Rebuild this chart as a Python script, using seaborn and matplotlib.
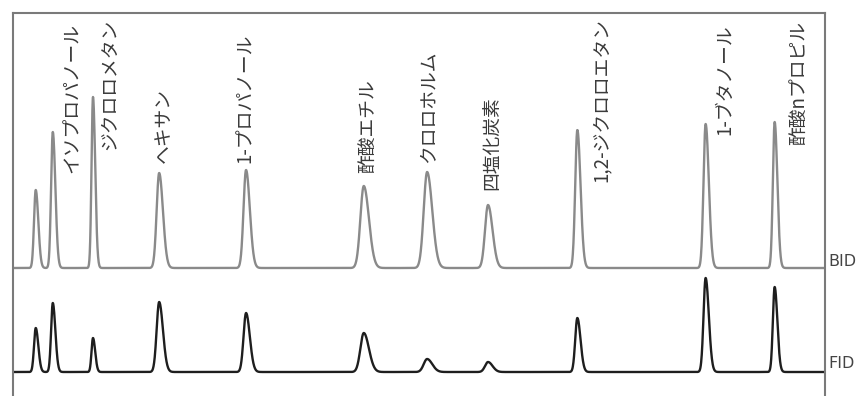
import numpy as np
import pandas as pd
import matplotlib
matplotlib.use('Agg')
import matplotlib.pyplot as plt
import seaborn as sns

# ── data (x: 0-100 retention scale, y: signal units) ──
compounds = ['', 'イソプロパノール', 'ジクロロメタン', 'ヘキサン', '1-プロパノール',
             '酢酸エチル', 'クロロホルム', '四塩化炭素', '1,2-ジクロロエタン',
             '1-ブタノール', '酢酸nプロピル']
peak_rt    = [2.8, 4.9, 9.85, 18.0, 28.7, 43.2, 51.0, 58.5, 69.5, 85.3, 93.8]
bid_height = [78, 136, 171, 95, 98, 82, 96, 63, 138, 144, 146]
fid_height = [44, 69, 34, 70, 59, 39, 13, 10, 54, 94, 85]
peak_sigma = [0.21, 0.21, 0.18, 0.31, 0.31, 0.42, 0.42, 0.37, 0.26, 0.26, 0.22]
bid_base = 128
fid_base = 24

# label placement (layout only)
label_x = [None, 7.25, 11.9, 18.5, 28.6, 43.6, 51.1, 59.1, 72.4, 87.6, 96.7]
label_y = [None, 223, 246, 233, 233, 223, 233, 206, 214, 261, 251]

BID_COL = '#8a8a8a'
FID_COL = '#1e1e1e'
FRAME = '#7a7a7a'

x = np.linspace(0, 100, 4000)


def trace(heights, base):
    y = np.full_like(x, float(base))
    for rt, h, s in zip(peak_rt, heights, peak_sigma):
        sd = np.where(x < rt, s, s * 1.5)   # slight tailing
        y += h * np.exp(-0.5 * ((x - rt) / sd) ** 2)
    return y


df = pd.concat([
    pd.DataFrame({'t': x, 'signal': trace(bid_height, bid_base), 'det': 'BID'}),
    pd.DataFrame({'t': x, 'signal': trace(fid_height, fid_base), 'det': 'FID'}),
])

sns.set_style('white')
plt.rcParams['font.family'] = ['Noto Sans CJK JP', 'DejaVu Sans']

fig = plt.figure(figsize=(8.56, 3.96), dpi=100)
ax = fig.add_axes([13 / 856, 0.0, 812 / 856, 383 / 396])

sns.lineplot(data=df, x='t', y='signal', hue='det', ax=ax,
             palette={'BID': BID_COL, 'FID': FID_COL}, legend=False,
             linewidth=1.7, estimator=None, sort=False)

for name, lx, ly in zip(compounds, label_x, label_y):
    if not name:
        continue
    ax.text(lx, ly, name, rotation=90, ha='center', va='bottom',
            fontsize=13.5, color='#3a3a3a',
            family=['Noto Sans CJK JP', 'DejaVu Sans'])

for det, yb in [('BID', bid_base + 6), ('FID', fid_base + 9)]:
    ax.text(100.45, yb, det, ha='left', va='center', fontsize=11.5,
            color='#444444', clip_on=False,
            family=['Liberation Sans Narrow', 'DejaVu Sans'])

ax.set_xlim(0, 100)
ax.set_ylim(0, 383)
ax.set_xticks([])
ax.set_yticks([])
ax.set_xlabel('')
ax.set_ylabel('')
for side in ['left', 'right', 'top']:
    ax.spines[side].set_color(FRAME)
    ax.spines[side].set_linewidth(1.5)
ax.spines['bottom'].set_visible(False)

fig.savefig('out.png', dpi=100, facecolor='white')
